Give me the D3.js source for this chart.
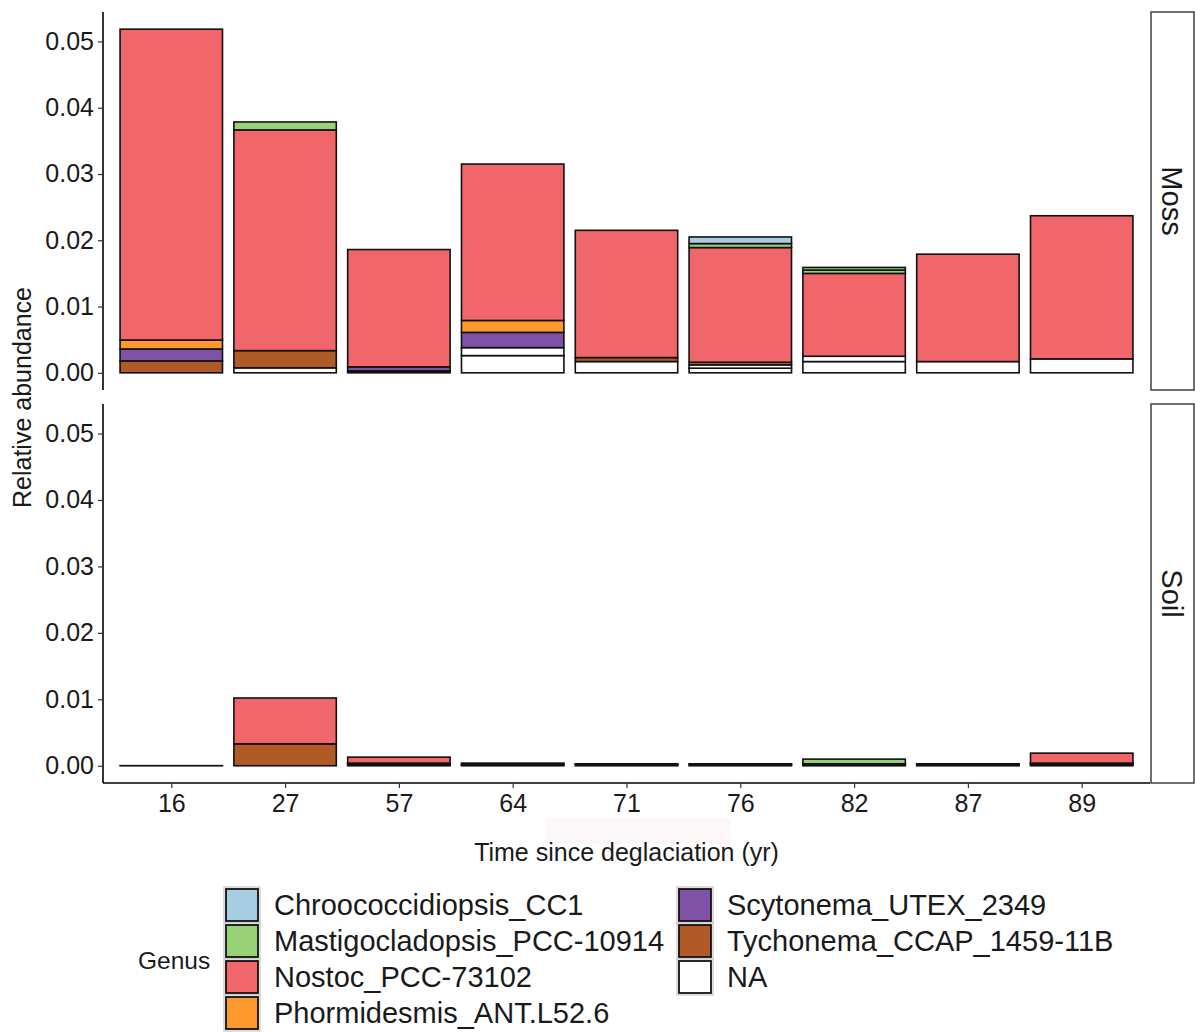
<!DOCTYPE html>
<html>
<head>
<meta charset="utf-8">
<script src="https://cdn.jsdelivr.net/npm/d3@7"></script>
<style>
  html, body { margin: 0; padding: 0; background: #fff; }
  svg { display: block; font-family: "Liberation Sans", Arial, sans-serif; }
</style>
</head>
<body>
<svg id="chart" width="1195" height="1032"></svg>
<script>
// Time since deglaciation (years) for each sampling site
const categories = ["16", "27", "57", "64", "71", "76", "82", "87", "89"];

// Genera in legend order (first one is stacked on top)
const genera = [
  "Chroococcidiopsis_CC1",
  "Mastigocladopsis_PCC-10914",
  "Nostoc_PCC-73102",
  "Phormidesmis_ANT.L52.6",
  "Scytonema_UTEX_2349",
  "Tychonema_CCAP_1459-11B",
  "NA"
];
const genusColors = ["#a6cde2", "#98d277", "#f0666b", "#fe9a2d", "#7f52a5", "#b05a28", "#ffffff"];

const panels = ["Moss", "Soil"];

// Relative abundance per genus and site; an inner list holds several taxa of the same genus
const mossChroococcidiopsis = [0, 0, 0, 0, 0, 0.0010, 0, 0, 0];
const mossMastigocladopsis  = [0, 0.0012, 0, 0, 0, 0.0006, [0.0005, 0.0004], 0, 0];
const mossNostoc            = [0.0469, 0.0333, 0.0177, 0.0236, 0.0192, 0.0173, 0.0125, 0.0162, 0.0216];
const mossPhormidesmis      = [0.00135, 0, 0, 0.0018, 0, 0, 0, 0, 0];
const mossScytonema         = [0.0018, 0, 0.0006, 0.0023, 0, 0, 0, 0, 0];
const mossTychonema         = [0.0018, 0.0026, 0.0001, 0, 0.0006, 0.0004, 0, 0, 0];
const mossNA                = [0, 0.00075, 0.0002, [0.0026, 0.0012], 0.0017, [0.0007, 0.0005], [0.0017, 0.0008], 0.0017, 0.0021];

const soilChroococcidiopsis = [0, 0, 0, 0, 0, 0, 0, 0, 0];
const soilMastigocladopsis  = [0, 0, 0, 0, 0, 0, 0.0007, 0, 0];
const soilNostoc            = [0, 0.0069, 0.0009, 0, 0, 0, 0, 0, 0.0015];
const soilPhormidesmis      = [0, 0, 0, 0, 0, 0, 0, 0, 0];
const soilScytonema         = [0, 0, 0, 0, 0, 0, 0, 0, 0];
const soilTychonema         = [0, 0.0033, 0.0001, 0, 0.0001, 0, 0, 0, 0.0001];
const soilNA                = [0.00002, 0, [0.0002, 0.0001], [0.0002, 0.0002], 0.0002, [0.0002, 0.0001], [0.0002, 0.0001], [0.0002, 0.0001], [0.0002, 0.0001]];

const yTicks = [0, 0.01, 0.02, 0.03, 0.04, 0.05];

const panelSeries = {
  Moss: [mossChroococcidiopsis, mossMastigocladopsis, mossNostoc, mossPhormidesmis, mossScytonema, mossTychonema, mossNA],
  Soil: [soilChroococcidiopsis, soilMastigocladopsis, soilNostoc, soilPhormidesmis, soilScytonema, soilTychonema, soilNA]
};

// ---- layout ----
const svg = d3.select("#chart");
const plotLeft = 103, plotRight = 1150;
const panelBoxes = { Moss: [12, 390], Soil: [404, 783] };
const stripX = 1151, stripW = 43;

// Build stacked segments: bottom of stack is the last genus (NA), top is the first
function buildSegments(panel) {
  const series = panelSeries[panel];
  const segs = [];
  categories.forEach((cat, i) => {
    let base = 0;
    for (let g = genera.length - 1; g >= 0; g--) {
      const parts = [].concat(series[g][i]);
      parts.forEach(v => {
        if (v > 0) {
          segs.push({ cat, genus: genera[g], color: genusColors[g], y0: base, y1: base + v });
          base += v;
        }
      });
    }
  });
  return segs;
}

const segmentsByPanel = {};
panels.forEach(p => segmentsByPanel[p] = buildSegments(p));
const maxTotal = d3.max(panels, p => d3.max(segmentsByPanel[p], s => s.y1));
const expand = maxTotal * 0.05;

const x = d3.scalePoint().domain(categories).range([plotLeft, plotRight]).padding(0.6);
const barW = x.step() * 0.9;

const textColor = "#1a1a1a";
const tickFont = 25;

panels.forEach(panel => {
  const [top, bottom] = panelBoxes[panel];
  const y = d3.scaleLinear().domain([-expand, maxTotal + expand]).range([bottom, top]);
  const g = svg.append("g");

  // stacked bars
  g.selectAll("rect.seg")
    .data(segmentsByPanel[panel])
    .join("rect")
    .attr("class", "seg")
    .attr("x", d => x(d.cat) - barW / 2)
    .attr("width", barW)
    .attr("y", d => y(d.y1))
    .attr("height", d => Math.max(0, y(d.y0) - y(d.y1)))
    .attr("fill", d => d.color)
    .attr("stroke", "#111")
    .attr("stroke-width", 1.6);

  // y axis
  const yAxis = d3.axisLeft(y).tickValues(yTicks).tickFormat(d3.format(".2f")).tickSize(5).tickPadding(4);
  const ya = g.append("g").attr("transform", `translate(${plotLeft},0)`).call(yAxis);
  ya.select(".domain").attr("d", `M0,${top}V${bottom}`).attr("stroke", "#000").attr("stroke-width", 1.6);
  ya.selectAll(".tick line").attr("stroke", "#333").attr("stroke-width", 1.2);
  ya.selectAll(".tick text").attr("font-size", tickFont).attr("fill", textColor).attr("font-family", "Liberation Sans, Arial, sans-serif");

  // facet strip
  g.append("rect")
    .attr("x", stripX).attr("y", top)
    .attr("width", stripW).attr("height", bottom - top)
    .attr("fill", "#fff").attr("stroke", "#333").attr("stroke-width", 1.4);
  g.append("text")
    .attr("transform", `translate(${stripX + stripW / 2},${(top + bottom) / 2}) rotate(90)`)
    .attr("text-anchor", "middle")
    .attr("dy", "0.35em")
    .attr("font-size", 29)
    .attr("fill", textColor)
    .text(panel);

  // x axis on the bottom panel only
  if (panel === panels[panels.length - 1]) {
    const xAxis = d3.axisBottom(x).tickSize(5).tickPadding(6);
    const xa = g.append("g").attr("transform", `translate(0,${bottom})`).call(xAxis);
    xa.select(".domain").attr("d", `M${plotLeft},0H${plotRight}`).attr("stroke", "#000").attr("stroke-width", 1.6);
    xa.selectAll(".tick line").attr("stroke", "#333").attr("stroke-width", 1.2);
    xa.selectAll(".tick text").attr("font-size", tickFont).attr("fill", textColor).attr("font-family", "Liberation Sans, Arial, sans-serif");
  }
});

// faint band behind the axis title
svg.append("rect").attr("x", 545).attr("y", 818).attr("width", 186).attr("height", 26).attr("fill", "#fdf8f7");

// axis titles
svg.append("text")
  .attr("x", (plotLeft + plotRight) / 2).attr("y", 861)
  .attr("text-anchor", "middle").attr("font-size", 25).attr("fill", textColor)
  .text("Time since deglaciation (yr)");
svg.append("text")
  .attr("transform", `translate(31,${(panelBoxes.Moss[0] + panelBoxes.Soil[1]) / 2}) rotate(-90)`)
  .attr("text-anchor", "middle").attr("font-size", 25).attr("fill", textColor)
  .text("Relative abundance");

// legend
const legend = svg.append("g");
legend.append("text").attr("x", 138).attr("y", 969).attr("font-size", 24.5).attr("fill", textColor).text("Genus");
const keySize = 36, rowsPerCol = 4;
const colX = [224, 677];
const legendTop = 887;
genera.forEach((name, i) => {
  const col = Math.floor(i / rowsPerCol), row = i % rowsPerCol;
  const kx = colX[col], ky = legendTop + row * keySize;
  legend.append("rect").attr("x", kx).attr("y", ky).attr("width", keySize).attr("height", keySize)
    .attr("fill", "#fff").attr("stroke", "#bbb").attr("stroke-width", 1);
  legend.append("rect").attr("x", kx + 2).attr("y", ky + 2).attr("width", keySize - 4).attr("height", keySize - 4)
    .attr("fill", genusColors[i]).attr("stroke", "#111").attr("stroke-width", 1.8);
  legend.append("text").attr("x", kx + keySize + 14).attr("y", ky + keySize / 2).attr("dy", "0.36em")
    .attr("font-size", 29).attr("fill", textColor).text(name);
});
</script>
</body>
</html>
